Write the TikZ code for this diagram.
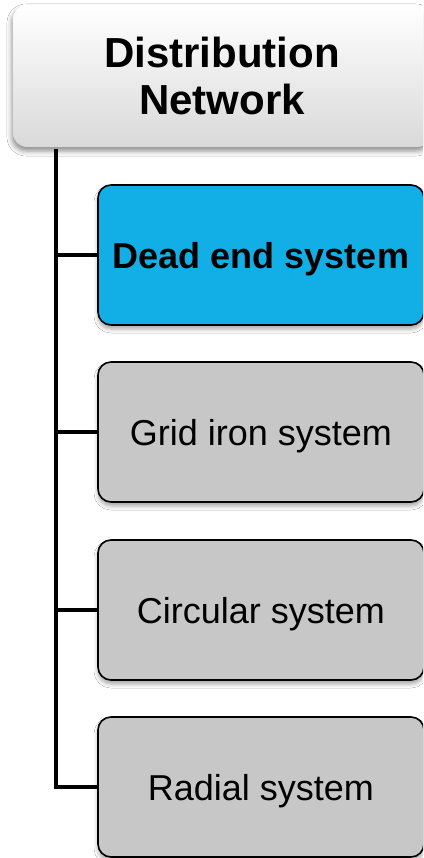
\documentclass[tikz,border=0pt]{standalone}
\usepackage{fontspec}
\setmainfont{Liberation Sans}
\usetikzlibrary{shadows.blur}
\definecolor{BranchBlue}{HTML}{12AEE6}
\definecolor{BranchGray}{HTML}{C7C7C7}
\definecolor{RootGray}{HTML}{D9D9D9}

\begin{document}
\begin{tikzpicture}[x=1pt,y=-1pt,
  rootbox/.style={rounded corners=14pt, minimum width=418pt, minimum height=142pt,
    top color=white, bottom color=RootGray, align=center,
    blur shadow={shadow xshift=-1pt, shadow yshift=-4pt, shadow blur radius=5pt, shadow opacity=45},
    font=\fontsize{42}{47}\selectfont\bfseries},
  leafbox/.style={draw=black, line width=1.6pt, rounded corners=13pt,
    minimum width=326pt, minimum height=140pt, fill=BranchGray, text depth=0pt,
    blur shadow={shadow xshift=0pt, shadow yshift=-4pt, shadow blur radius=4pt, shadow opacity=35},
    font=\fontsize{36}{40}\selectfont},
  trunk/.style={line width=4.8pt}]
  \clip (0,0) rectangle (423,858);
  \fill[white] (0,0) rectangle (423,858);
  % header
  \node[rootbox] (network) at (222,76) {Distribution\\Network};
  % the four kinds of layout
  \node[leafbox, fill=BranchBlue, font=\fontsize{36}{40}\selectfont\bfseries] (deadend) at (261,255) {Dead end system};
  \node[leafbox] (gridiron) at (261,432) {Grid iron system};
  \node[leafbox] (circular) at (261,610) {Circular system};
  \node[leafbox] (radial) at (261,787) {Radial system};
  \coordinate (spine) at (56,149);
  \draw[trunk] (spine) |- (radial.west);
  \foreach \n in {deadend,gridiron,circular}
    \draw[trunk] (spine |- \n.west) -- (\n.west);
\end{tikzpicture}
\end{document}
